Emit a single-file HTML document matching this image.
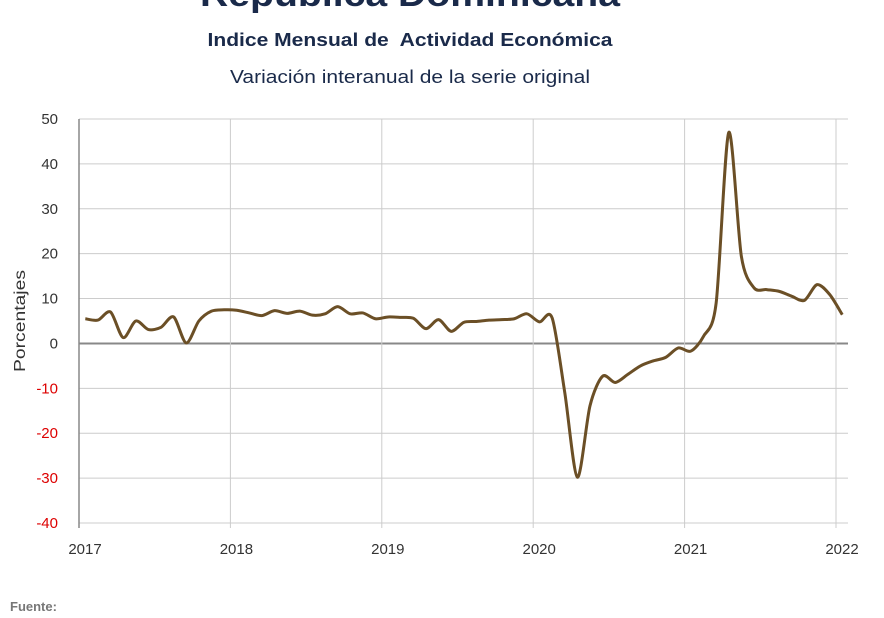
<!DOCTYPE html>
<html><head><meta charset="utf-8"><style>
body{margin:0;background:#fff;width:884px;height:613px;overflow:hidden;font-family:"Liberation Sans",sans-serif}
</style></head><body>
<svg width="884" height="613" font-family="Liberation Sans, sans-serif">
<text x="410" y="6" text-anchor="middle" font-size="34" font-weight="bold" fill="#1a2a4a" textLength="420" lengthAdjust="spacingAndGlyphs">República Dominicana</text>
<text x="410" y="46" text-anchor="middle" font-size="18" font-weight="bold" fill="#1a2a4a" textLength="405" lengthAdjust="spacingAndGlyphs" xml:space="preserve">Indice Mensual de  Actividad Económica</text>
<text x="410" y="83" text-anchor="middle" font-size="18" fill="#1a2a4a" textLength="360" lengthAdjust="spacingAndGlyphs">Variación interanual de la serie original</text>
<text transform="translate(25,321) rotate(-90)" text-anchor="middle" font-size="16" fill="#333" textLength="102" lengthAdjust="spacingAndGlyphs">Porcentajes</text>
<text x="10" y="611" font-size="13" font-weight="bold" fill="#777">Fuente:</text>
<g id="grid"></g><g id="axes"></g><g id="series"></g>
</svg>
<script>
const yTicks=[50,40,30,20,10,0,-10,-20,-30,-40];
const xTickLabels=["2017","2018","2019","2020","2021","2022"];
const values2017=[5.5,5.2,7.0,1.3,5.0,3.1,3.6,5.9,0.1,5.0,7.2,7.5];
const values2018=[7.4,6.8,6.2,7.3,6.7,7.2,6.3,6.6,8.2,6.6,6.8,5.5];
const values2019=[5.9,5.8,5.6,3.3,5.3,2.7,4.7,4.9,5.2,5.3,5.5,6.6];
const values2020=[4.8,5.7,-10.9,-29.8,-13.9,-7.3,-8.7,-6.9,-5.0,-3.9,-3.1,-1.0];
const values2021=[-1.7,1.6,9.0,47.0,19.4,12.4,12.0,11.6,10.5,9.6,13.1,10.9];
const values2022=[6.4];
const series=[].concat(values2017,values2018,values2019,values2020,values2021,values2022);
const NS="http://www.w3.org/2000/svg";
const L=79,R=848,T=119,B=523,yMin=-40,yMax=50,yearW=151.4;
const y=v=>B-(v-yMin)/(yMax-yMin)*(B-T);
const x=i=>L+yearW*(i+0.5)/12;
const yrX=k=>L+yearW*k;
function mk(tag,at,parent){const e=document.createElementNS(NS,tag);for(const k in at)e.setAttribute(k,at[k]);parent.appendChild(e);return e;}
const grid=document.getElementById('grid'),axes=document.getElementById('axes'),ser=document.getElementById('series');
yTicks.forEach(t=>{
 const g=mk('line',{x1:L,x2:R,y1:y(t),y2:y(t),stroke:t===0?'#888':'#ccc','stroke-width':t===0?2:1},grid);
 
 
 const tx=mk('text',{x:58,y:y(t)+5,'text-anchor':'end','font-size':15,fill:t<0?'#d00':'#333'},axes);
 tx.textContent=t;
 
 
});
xTickLabels.forEach((lab,k)=>{
 const g=mk('line',{x1:yrX(k),x2:yrX(k),y1:T,y2:B+5,stroke:k===0?'#888':'#ccc','stroke-width':k===0?1.5:1},grid);
 
 
 const tx=mk('text',{x:yrX(k)+6,y:554,'text-anchor':'middle','font-size':15,fill:'#333'},axes);
 tx.textContent=lab;
 
 
});
const P=series.map((v,i)=>[x(i),y(v)]);
let d='M'+P[0][0]+','+P[0][1];
const k=1/7;
for(let i=0;i<P.length-1;i++){
 const p0=P[Math.max(0,i-1)],p1=P[i],p2=P[i+1],p3=P[Math.min(P.length-1,i+2)];
 const c1=[p1[0]+(p2[0]-p0[0])*k,p1[1]+(p2[1]-p0[1])*k],c2=[p2[0]-(p3[0]-p1[0])*k,p2[1]-(p3[1]-p1[1])*k];
 d+=' C'+c1.join(',')+' '+c2.join(',')+' '+p2.join(',');
}
const line=mk('path',{d:d,fill:'none',stroke:'#6b4f26','stroke-width':3,'stroke-linejoin':'round'},ser);


</script>
</body></html>
